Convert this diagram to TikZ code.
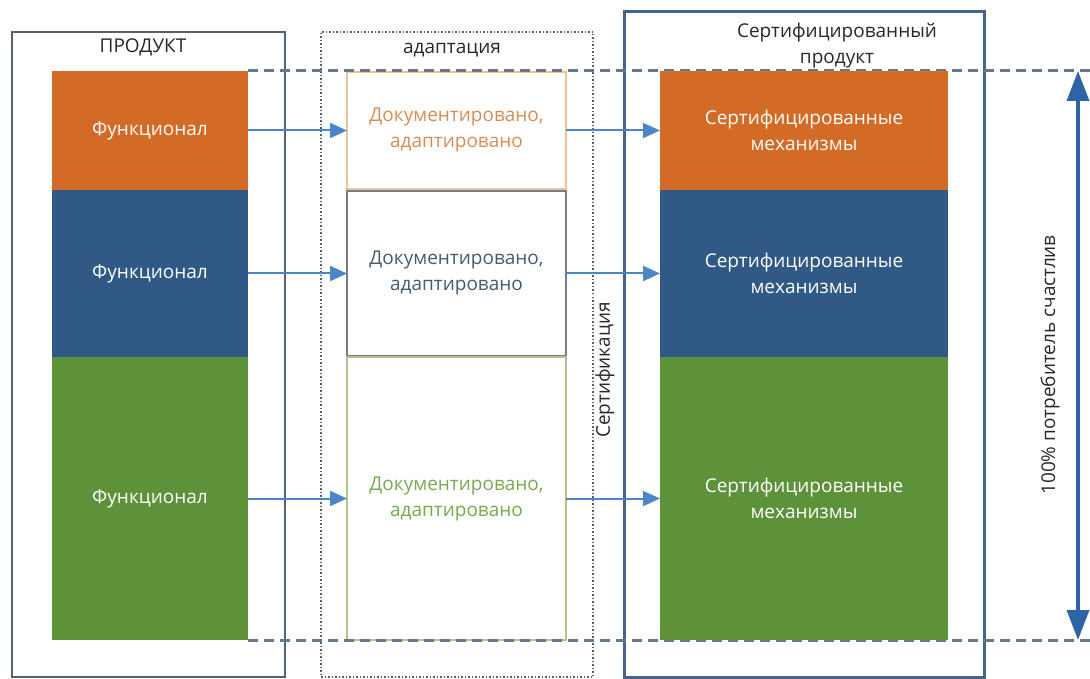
\documentclass[tikz,border=0pt]{standalone}
\usepackage{fontspec}
\setmainfont{Open Sans}
\usetikzlibrary{arrows.meta}

\definecolor{orng}{RGB}{211,107,38}
\definecolor{blu}{RGB}{48,90,133}
\definecolor{grn}{RGB}{94,146,58}
\definecolor{frame}{RGB}{85,98,114}
\definecolor{certframe}{RGB}{70,100,135}
\definecolor{flowblue}{RGB}{75,135,200}
\definecolor{dashgray}{RGB}{100,120,145}
\definecolor{bigblue}{RGB}{45,100,165}
\definecolor{orngtext}{RGB}{215,140,85}
\definecolor{orngline}{RGB}{240,195,150}
\definecolor{blutext}{RGB}{70,90,110}
\definecolor{bluline}{RGB}{115,125,140}
\definecolor{grntext}{RGB}{120,170,80}
\definecolor{grnline}{RGB}{180,195,140}
\definecolor{titletext}{RGB}{40,40,40}

\begin{document}
\begin{tikzpicture}[x=1pt,y=-1pt,
  every node/.style={outer sep=0pt, inner sep=0pt, align=center, font=\fontsize{19}{26}\selectfont},
  flow/.style={draw=flowblue, line width=2pt, -{Triangle[width=15pt,length=17pt]}},
  levelline/.style={draw=dashgray, line width=3pt, dash pattern=on 10pt off 6pt}]
\useasboundingbox (0,0) rectangle (1090,679);

% outer frames
\node[draw=frame, line width=2pt, minimum width=273pt, minimum height=645pt] (prod) at (148.5,354.5) {};
\node[draw=frame, dotted, line width=1.5pt, minimum width=272pt, minimum height=645pt] (adapt) at (457,354.5) {};
\node[draw=certframe, line width=3pt, minimum width=360pt, minimum height=665pt] (cert) at (804,344.5) {};

\node[text=titletext] (prodtitle) at (143,47) {ПРОДУКТ};
\node[text=titletext] (adapttitle) at (452,50) {адаптация};
\node[text=titletext] (certtitle) at (837,46) {Сертифицированный\\продукт};

% product
\node[fill=orng, text=white, minimum width=196pt, minimum height=119pt] (f1) at (150,130.5) {Функционал};
\node[fill=blu, text=white, minimum width=196pt, minimum height=167pt] (f2) at (150,273.5) {Функционал};
\node[fill=grn, text=white, minimum width=196pt, minimum height=283pt] (f3) at (150,498.5) {Функционал};

% adaptation
\node[draw=orngline, line width=1.5pt, text=orngtext, minimum width=219pt, minimum height=117pt] (a1) at (456.5,130.5) {Документировано,\\адаптировано};
\node[draw=bluline, line width=1.5pt, text=blutext, minimum width=219pt, minimum height=165pt] (a2) at (456.5,273.5) {Документировано,\\адаптировано};
\node[draw=grnline, line width=1.5pt, text=grntext, minimum width=219pt, minimum height=283pt] (a3) at (456.5,498.5) {Документировано,\\адаптировано};

% 100% level
\coordinate (topend) at (1090,71);
\coordinate (botend) at (1090,640);
\draw[levelline] (f1.north east) -- (topend);
\draw[levelline] (f3.south east) -- (botend);

% certified
\node[fill=orng, text=white, minimum width=288pt, minimum height=119pt] (c1) at (804,130.5) {Сертифицированные\\механизмы};
\node[fill=blu, text=white, minimum width=288pt, minimum height=167pt] (c2) at (804,273.5) {Сертифицированные\\механизмы};
\node[fill=grn, text=white, minimum width=288pt, minimum height=283pt] (c3) at (804,498.5) {Сертифицированные\\механизмы};

\node[rotate=90, text=titletext] (certlabel) at (605,370) {Сертификация};
\node[rotate=90, text=titletext] (happy) at (1050,365) {100\% потребитель счастлив};

\foreach \i in {1,2,3} {
  \draw[flow] (f\i) -- (a\i);
  \draw[flow] (a\i) -- (c\i);
}

\coordinate (arrtop) at (1078,71);
\coordinate (arrbot) at (1078,640);
\draw[draw=bigblue, line width=3.5pt, {Triangle[width=22pt,length=30pt]}-{Triangle[width=22pt,length=30pt]}] (arrbot) -- (arrtop);
\end{tikzpicture}
\end{document}
